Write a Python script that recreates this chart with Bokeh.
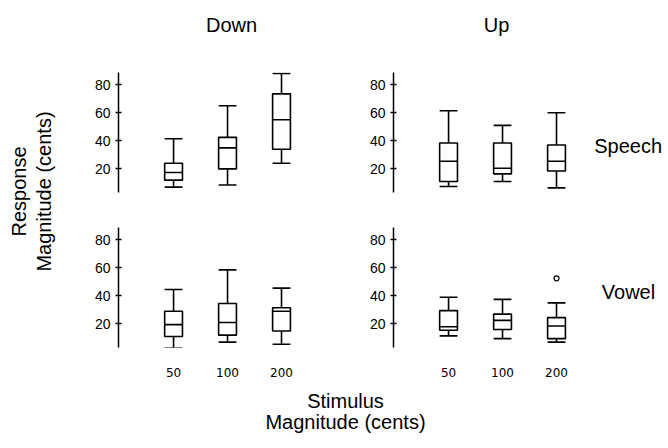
import numpy as np
from bokeh.plotting import figure
from bokeh.models import Range1d, Label, FixedTicker
from bokeh.layouts import row, column
from bokeh.embed import file_html
from bokeh.resources import INLINE

# ---------------- data ----------------
stimulus = ["50", "100", "200"]
y_ticks = [20, 40, 60, 80]

# Down / Speech
ds_low = [7.0, 8.5, 24.0]
ds_q1 = [12.0, 20.0, 34.0]
ds_med = [17.5, 35.0, 55.0]
ds_q3 = [24.0, 42.5, 73.5]
ds_high = [41.5, 65.0, 88.0]

# Up / Speech
us_low = [7.5, 11.0, 6.5]
us_q1 = [11.0, 16.5, 18.5]
us_med = [25.5, 20.5, 25.5]
us_q3 = [38.5, 38.5, 37.0]
us_high = [61.5, 51.0, 60.0]

# Down / Vowel
dv_low = [3.0, 7.0, 5.5]
dv_q1 = [11.0, 12.0, 15.0]
dv_med = [19.5, 21.0, 29.0]
dv_q3 = [29.0, 34.5, 31.5]
dv_high = [44.5, 58.5, 45.5]

# Up / Vowel
uv_low = [11.5, 9.5, 7.0]
uv_q1 = [15.5, 16.0, 9.5]
uv_med = [18.0, 22.5, 18.5]
uv_q3 = [29.5, 27.0, 24.5]
uv_high = [39.0, 37.5, 35.0]
uv_out_stim = ["200"]
uv_out_val = [52.5]

FONT = "Liberation Sans"
BOX_W = 0.33
LW = 1.6


def blank(w, h):
    p = figure(width=w, height=h, x_range=Range1d(0, w), y_range=Range1d(h, 0),
               output_backend="svg", toolbar_location=None,
               x_axis_location=None, y_axis_location=None,
               min_border_left=0, min_border_right=0, min_border_top=0, min_border_bottom=0)
    p.grid.visible = False
    p.outline_line_color = None
    p.background_fill_color = "white"
    p.border_fill_color = "white"
    return p


def panel(low, q1, med, q3, high, w, h, bl, br, bt, bb, show_x, out_stim=None, out_val=None):
    p = figure(width=w, height=h, x_range=Range1d(-0.02, 3.5), y_range=Range1d(3.2, 88.7),
               output_backend="svg", toolbar_location=None,
               x_axis_location="below" if show_x else None,
               min_border_left=bl, min_border_right=br, min_border_top=bt, min_border_bottom=bb)
    p.grid.visible = False
    p.outline_line_color = None
    p.background_fill_color = "white"
    p.border_fill_color = "white"

    xs = np.arange(1, len(stimulus) + 1)
    low, q1, med, q3, high = map(np.asarray, (low, q1, med, q3, high))
    half = BOX_W / 2
    # whiskers
    p.segment(x0=xs, y0=q3, x1=xs, y1=high, line_color="black", line_width=LW)
    p.segment(x0=xs, y0=q1, x1=xs, y1=low, line_color="black", line_width=LW)
    # caps
    p.segment(x0=xs - half, y0=high, x1=xs + half, y1=high, line_color="black", line_width=LW)
    p.segment(x0=xs - half, y0=low, x1=xs + half, y1=low, line_color="black", line_width=LW)
    # boxes
    p.vbar(x=xs, width=BOX_W, top=q3, bottom=q1, fill_color="white",
           line_color="black", line_width=LW)
    # medians
    p.segment(x0=xs - half, y0=med, x1=xs + half, y1=med, line_color="black", line_width=LW)

    if out_stim:
        ox = [stimulus.index(s) + 1 for s in out_stim]
        p.scatter(x=ox, y=out_val, size=5, marker="circle", fill_color="white",
                  line_color="black", line_width=1.2)

    ax = p.yaxis[0]
    ax.ticker = FixedTicker(ticks=y_ticks)
    ax.axis_line_width = 1.5
    ax.axis_line_color = "black"
    ax.major_tick_line_width = 1.5
    ax.major_tick_line_color = "black"
    ax.major_tick_in = 3
    ax.major_tick_out = 3
    ax.minor_tick_line_color = None
    ax.major_label_standoff = 5
    ax.major_label_text_font = FONT
    ax.major_label_text_font_size = "14px"
    ax.major_label_text_color = "black"

    if show_x:
        xa = p.xaxis[0]
        xa.ticker = FixedTicker(ticks=[int(v) for v in xs])
        xa.major_label_overrides = {int(v): s for v, s in zip(xs, stimulus)}
        xa.axis_line_color = None
        xa.major_tick_line_color = None
        xa.minor_tick_line_color = None
        xa.major_label_standoff = 14
        xa.major_label_text_font = "DejaVu Sans"
        xa.major_label_text_font_size = "12px"
        xa.major_label_text_color = "black"
    return p


def label(p, x, y, text, angle=0, align="center", baseline="alphabetic"):
    p.add_layout(Label(x=x, y=y, text=text, angle=angle, text_align=align,
                       text_baseline=baseline, text_font=FONT,
                       text_font_size="20px", text_color="black"))


# titles strip
title_fig = blank(668, 60)
label(title_fig, 231, 24.5, "Down")
label(title_fig, 496, 24.5, "Up")

# left y label
left_fig = blank(70, 330)
label(left_fig, 18, 131, "Response", angle=np.pi / 2)
label(left_fig, 43, 131, "Magnitude (cents)", angle=np.pi / 2)

tl = panel(ds_low, ds_q1, ds_med, ds_q3, ds_high, 280, 150, 48, 42, 12, 18, False)
tr = panel(us_low, us_q1, us_med, us_q3, us_high, 238, 150, 43, 5, 12, 18, False)
speech_fig = blank(80, 150)
label(speech_fig, 39.7, 91.7, "Speech")

bl = panel(dv_low, dv_q1, dv_med, dv_q3, dv_high, 280, 180, 48, 42, 17, 43, True)
br = panel(uv_low, uv_q1, uv_med, uv_q3, uv_high, 238, 180, 43, 5, 17, 43, True,
           out_stim=uv_out_stim, out_val=uv_out_val)
vowel_fig = blank(80, 180)
label(vowel_fig, 40, 96.7, "Vowel")

bottom_fig = blank(668, 58)
label(bottom_fig, 345, 10, "Stimulus")
label(bottom_fig, 345, 31, "Magnitude (cents)")

layout = column(
    title_fig,
    row(left_fig, column(row(tl, tr, speech_fig), row(bl, br, vowel_fig))),
    bottom_fig,
)

open("out.html", "w").write(file_html(layout, INLINE))
